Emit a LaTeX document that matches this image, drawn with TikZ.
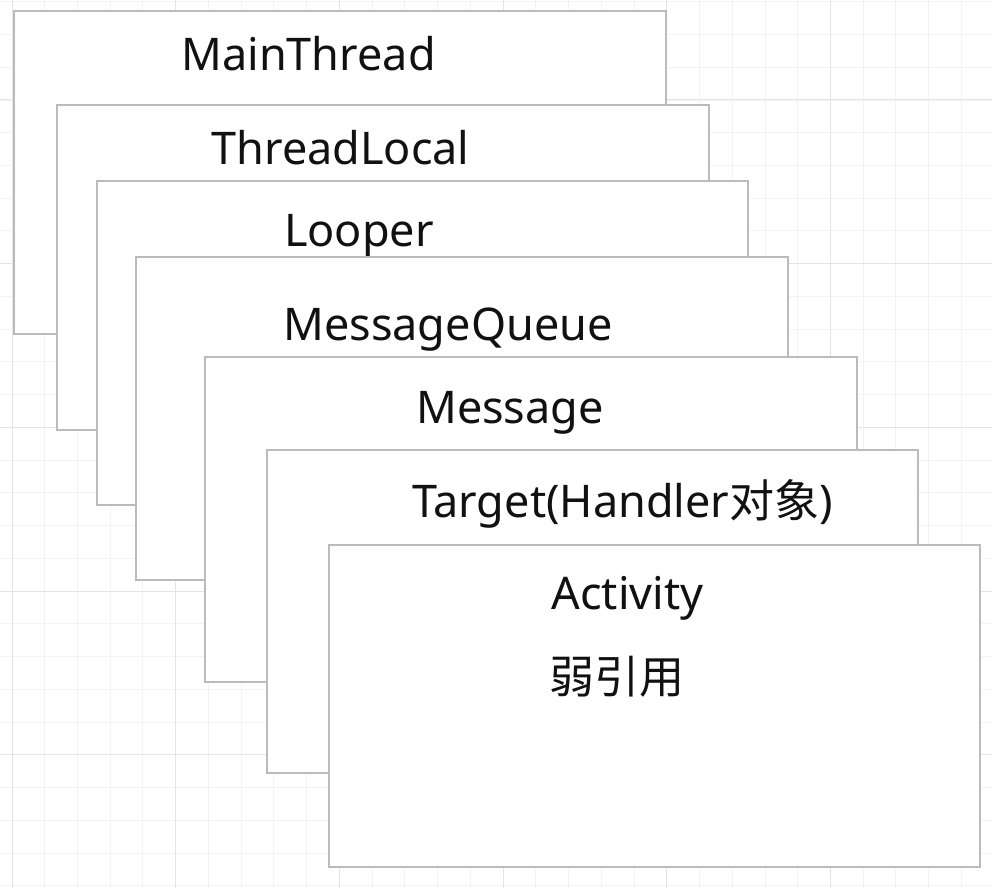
\documentclass[tikz,border=0pt]{standalone}
\usepackage{fontspec}
\setmainfont{Noto Sans}
\newfontfamily\cjk{Noto Sans CJK SC}
\definecolor{gridminor}{HTML}{F3F3F3}
\definecolor{gridmajor}{HTML}{E4E4E4}
\definecolor{boxline}{HTML}{BBBBBB}
\definecolor{txt}{HTML}{111111}
\begin{document}
\begin{tikzpicture}[x=1pt,y=-1pt,
  layer/.style={draw=boxline,line width=2.6pt,fill=white},
  lbl/.style={inner sep=0pt,anchor=base,text=txt,font=\fontsize{45}{54}\selectfont},
  cjklbl/.style={inner sep=0pt,anchor=center,text=txt,font=\fontsize{45}{54}\selectfont\cjk}]
\useasboundingbox (0,0) rectangle (992,888);
\fill[white] (0,0) rectangle (992,888);
% grid
\begin{scope}
\clip (0,0) rectangle (992,888);
\foreach \i in {0,...,30}{
  \draw[gridminor,line width=1pt] ({12+32.74*\i},0) -- ({12+32.74*\i},888);
  \draw[gridminor,line width=1pt] (0,{1.8+32.74*\i}) -- (992,{1.8+32.74*\i});
}
\foreach \i in {0,...,6}{
  \draw[gridmajor,line width=1pt] ({12+163.7*\i},0) -- ({12+163.7*\i},888);
  \draw[gridmajor,line width=1pt] (0,{100+163.7*(\i-1)}) -- (992,{100+163.7*(\i-1)});
}
\end{scope}
% layers
\draw[layer] (14,11) rectangle (666,334) coordinate (b1);
\node[lbl] (t1) at (308.5,71) {MainThread};
\draw[layer] (57,105) rectangle (709,430) coordinate (b2);
\node[lbl] (t2) at (340.5,164) {ThreadLocal};
\draw[layer] (97,181) rectangle (748,505) coordinate (b3);
\node[lbl] (t3) at (359,246) {Looper};
\draw[layer] (136,257) rectangle (788,580) coordinate (b4);
\node[lbl] (t4) at (448,340) {MessageQueue};
\draw[layer] (205,357) rectangle (857,682) coordinate (b5);
\node[lbl] (t5) at (510,423) {Message};
\draw[layer] (267,450) rectangle (918,773) coordinate (b6);
\node[lbl] (t6) at (622.5,517) {Target(Handler{\cjk 对象})};
\draw[layer] (329,545) rectangle (980,867) coordinate (b7);
\node[lbl] (t7) at (627.5,609) {Activity};
\node[cjklbl] (t8) at (617,677) {弱引用};
\end{tikzpicture}
\end{document}
